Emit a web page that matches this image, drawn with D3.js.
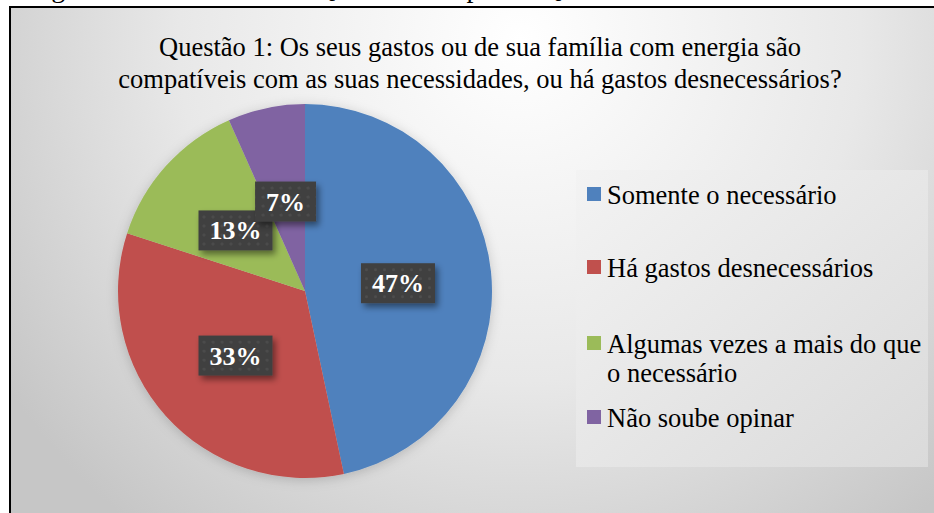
<!DOCTYPE html>
<html>
<head>
<meta charset="utf-8">
<script src="https://cdn.jsdelivr.net/npm/d3@7"></script>
<style>
  body { margin: 0; background: #ffffff; }
  svg { display: block; }
  .title-text { font-family: "Liberation Serif", "Times New Roman", serif; font-size: 26.5px; fill: #000; }
  .legend-text { font-family: "Liberation Serif", "Times New Roman", serif; font-size: 26.5px; fill: #000; }
  .pct-text { font-family: "Liberation Serif", "Times New Roman", serif; font-size: 26px; font-weight: bold; fill: #fff; }
</style>
</head>
<body>
<div class="chart"></div>
<script>
/* Global Constants
============================================= */
const SVG_WIDTH = 934;
const SVG_HEIGHT = 513;

// data
const categories = [
    "Somente o necessário",
    "Há gastos desnecessários",
    "Algumas vezes a mais do que o necessário",
    "Não soube opinar"
];
const legendLines = [
    ["Somente o necessário"],
    ["Há gastos desnecessários"],
    ["Algumas vezes a mais do que", "o necessário"],
    ["Não soube opinar"]
];
const answers = [7, 5, 2, 1];
const pctLabels = ["47%", "33%", "13%", "7%"];
const colors = ["#4f81bd", "#c0504d", "#9bbb59", "#8064a2"];

const titleLines = [
    "Questão 1: Os seus gastos ou de sua família com energia são",
    "compatíveis com as suas necessidades, ou há gastos desnecessários?"
];
const captionText = "Figura 3 – Resultados do Questionário para a Questão 1";

/* Layout
============================================= */
var frame = { x: 10, y: 7 };
var pieCenter = { x: 305, y: 291 };
var radius = 187;
var legendBox = { x: 576, y: 170, w: 352, h: 297 };
var legendBaselines = [204, 277, 353, 427];
var titleCenter = 480;
var titleBaselines = [56, 88];

var svg = d3.select(".chart")
    .append("svg")
    .attr("width", SVG_WIDTH)
    .attr("height", SVG_HEIGHT);

var defs = svg.append("defs");

// chart background gradient
var bg = defs.append("radialGradient")
    .attr("id", "bgGrad")
    .attr("gradientUnits", "userSpaceOnUse")
    .attr("cx", 520).attr("cy", 40)
    .attr("r", 620);
bg.append("stop").attr("offset", "0%").attr("stop-color", "#ffffff");
bg.append("stop").attr("offset", "55%").attr("stop-color", "#e8e8e8");
bg.append("stop").attr("offset", "100%").attr("stop-color", "#c6c6c6");

var lg = defs.append("linearGradient")
    .attr("id", "legGrad")
    .attr("x1", "0%").attr("y1", "0%")
    .attr("x2", "100%").attr("y2", "100%");
lg.append("stop").attr("offset", "0%").attr("stop-color", "#f3f3f3");
lg.append("stop").attr("offset", "100%").attr("stop-color", "#dadada");

// dotted texture for the labels
var pat = defs.append("pattern")
    .attr("id", "dots")
    .attr("patternUnits", "userSpaceOnUse")
    .attr("width", 9).attr("height", 9);
pat.append("rect").attr("width", 9).attr("height", 9).attr("fill", "#3f3f3f");
pat.append("circle").attr("cx", 4.5).attr("cy", 4.5).attr("r", 1.6).attr("fill", "#4d4d4d");

var shadow = defs.append("filter")
    .attr("id", "shadow")
    .attr("x", "-20%").attr("y", "-20%")
    .attr("width", "150%").attr("height", "160%");
shadow.append("feDropShadow")
    .attr("dx", 3).attr("dy", 4)
    .attr("stdDeviation", 3)
    .attr("flood-color", "#000")
    .attr("flood-opacity", 0.45);

var pieShadow = defs.append("filter")
    .attr("id", "pieShadow")
    .attr("x", "-20%").attr("y", "-20%")
    .attr("width", "140%").attr("height", "140%");
pieShadow.append("feDropShadow")
    .attr("dx", 0).attr("dy", 2)
    .attr("stdDeviation", 6)
    .attr("flood-color", "#000")
    .attr("flood-opacity", 0.18);

// caption above the chart (only its descenders show)
svg.append("text")
    .attr("class", "title-text")
    .attr("x", 28)
    .attr("y", -3)
    .style("font-size", "28px")
    .text(captionText);

// chart frame
svg.append("rect")
    .attr("x", frame.x)
    .attr("y", frame.y)
    .attr("width", SVG_WIDTH + 20)
    .attr("height", SVG_HEIGHT + 20)
    .attr("fill", "url(#bgGrad)")
    .attr("stroke", "#000")
    .attr("stroke-width", 2);

// title
svg.append("text")
    .attr("class", "title-text")
    .attr("text-anchor", "middle")
    .selectAll("tspan")
    .data(titleLines)
    .enter()
    .append("tspan")
    .attr("x", titleCenter)
    .attr("y", function(d, i) { return titleBaselines[i]; })
    .text(function(d) { return d; });

/* Pie
============================================= */
var pie = d3.pie().sort(null).value(function(d) { return d; });
var arc = d3.arc().innerRadius(0).outerRadius(radius);
var arcs = pie(answers);

var pieGroup = svg.append("g")
    .attr("transform", `translate(${pieCenter.x}, ${pieCenter.y})`);

pieGroup.append("g")
    .attr("filter", "url(#pieShadow)")
    .selectAll("path")
    .data(arcs)
    .enter()
    .append("path")
    .attr("d", arc)
    .attr("fill", function(d, i) { return colors[i]; });

// labels at the arc centroid
var labels = pieGroup.selectAll("g.pct")
    .data(arcs)
    .enter()
    .append("g")
    .attr("class", "pct")
    .attr("transform", function(d) {
        var c = arc.centroid(d);
        return `translate(${c[0]}, ${c[1] + 2})`;
    });

labels.append("rect")
    .attr("fill", "url(#dots)")
    .attr("filter", "url(#shadow)");

labels.append("text")
    .attr("class", "pct-text")
    .attr("text-anchor", "middle")
    .attr("y", 9)
    .text(function(d, i) { return pctLabels[i]; });

labels.each(function() {
    var g = d3.select(this);
    var w = g.select("text").node().getComputedTextLength();
    g.select("rect")
        .attr("x", -w / 2 - 11)
        .attr("y", -20)
        .attr("width", w + 22)
        .attr("height", 40);
});

/* Legend
============================================= */
svg.append("rect")
    .attr("x", legendBox.x)
    .attr("y", legendBox.y)
    .attr("width", legendBox.w)
    .attr("height", legendBox.h)
    .attr("fill", "url(#legGrad)");

var legend = svg.selectAll("g.legend")
    .data(categories)
    .enter()
    .append("g")
    .attr("class", "legend")
    .attr("transform", function(d, i) {
        return `translate(587, ${legendBaselines[i]})`;
    });

legend.append("rect")
    .attr("x", 0)
    .attr("y", -17)
    .attr("width", 14)
    .attr("height", 14)
    .attr("fill", function(d, i) { return colors[i]; });

legend.append("text")
    .attr("class", "legend-text")
    .selectAll("tspan")
    .data(function(d, i) { return legendLines[i]; })
    .enter()
    .append("tspan")
    .attr("x", 20)
    .attr("y", function(d, j) { return j * 29; })
    .text(function(d) { return d; });
</script>
</body>
</html>
